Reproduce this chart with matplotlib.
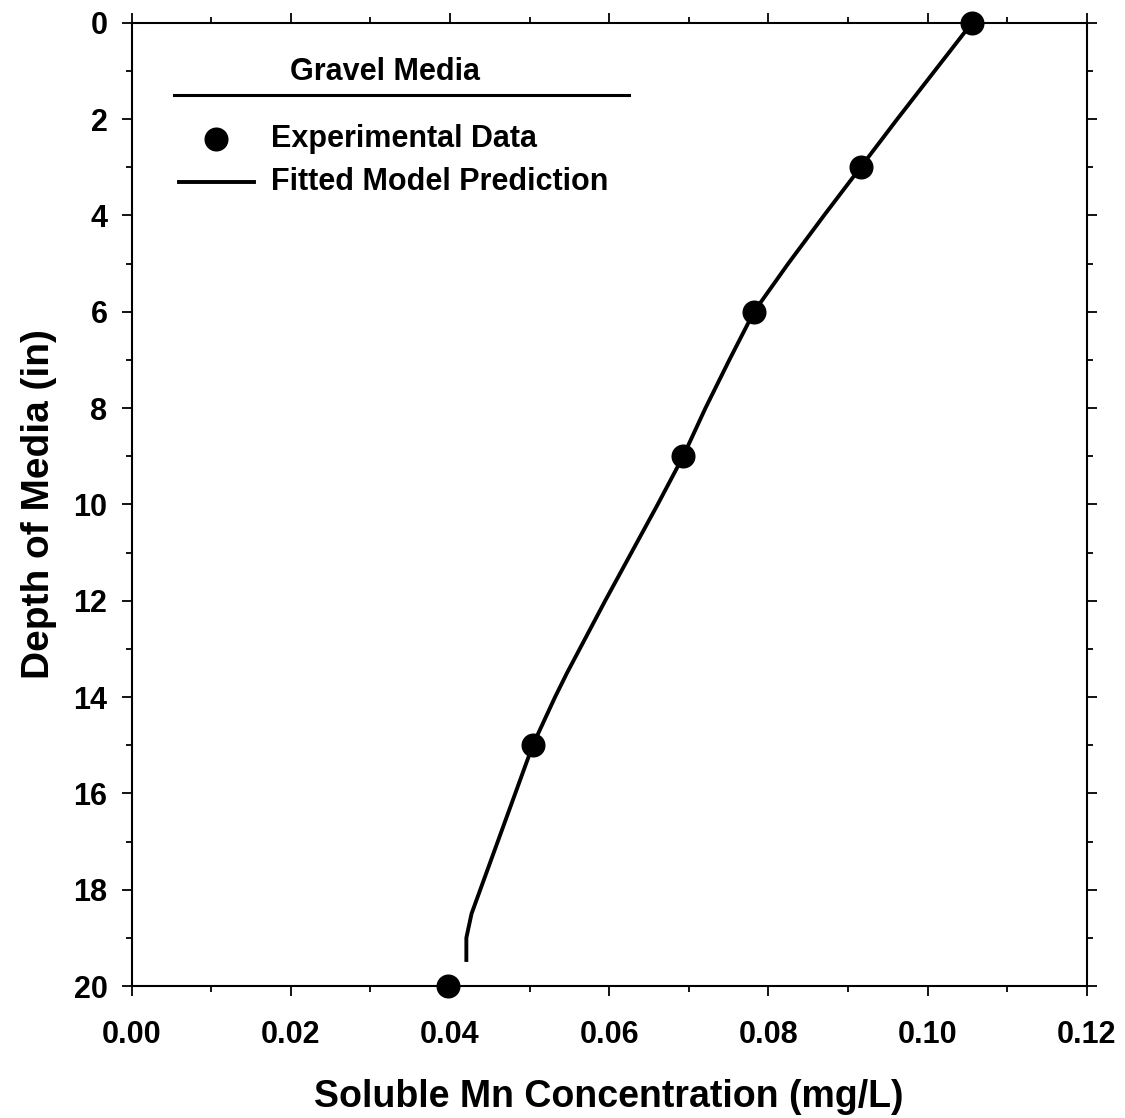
import matplotlib
matplotlib.use("Agg")
import matplotlib.pyplot as plt
from matplotlib.ticker import MultipleLocator, FormatStrFormatter

plt.rcParams["font.family"] = ["Liberation Sans", "DejaVu Sans"]
plt.rcParams["font.weight"] = "bold"

# Measured soluble Mn at each sampling depth
depth_exp = [0, 3, 6, 9, 15, 20]
conc_exp = [0.1056, 0.0916, 0.0782, 0.0693, 0.0504, 0.0397]

# Fitted model prediction through the gravel bed
depth_fit = [0, 1, 2, 3, 4, 5, 6, 7, 8, 9, 10, 11, 12, 13, 13.5, 14, 14.5,
             15, 16, 17, 18, 18.5, 19, 19.5]
conc_fit = [0.1056, 0.1009, 0.0962, 0.0916, 0.0870, 0.0825, 0.0782, 0.0751,
            0.0721, 0.0693, 0.0661, 0.0628, 0.0595, 0.0563, 0.0547, 0.0532,
            0.0518, 0.0504, 0.0482, 0.0460, 0.0438, 0.0427, 0.04205, 0.04205]

x_ticks = [0.00, 0.02, 0.04, 0.06, 0.08, 0.10, 0.12]
y_ticks = [0, 2, 4, 6, 8, 10, 12, 14, 16, 18, 20]

fig = plt.figure(figsize=(11.25, 11.18), dpi=100)
ax = fig.add_axes([131.7 / 1125, 1 - 986 / 1118, 955 / 1125, 963.3 / 1118])

ax.plot(conc_fit, depth_fit, color="black", lw=2.8, solid_capstyle="butt",
        solid_joinstyle="round", zorder=2)
ax.plot(conc_exp, depth_exp, "o", color="black", ms=16.3, clip_on=False,
        zorder=3)

ax.set_xlim(0, 0.12)
ax.set_ylim(20, 0)
ax.set_xticks(x_ticks)
ax.set_yticks(y_ticks)
ax.xaxis.set_minor_locator(MultipleLocator(0.01))
ax.yaxis.set_minor_locator(MultipleLocator(1))
ax.xaxis.set_major_formatter(FormatStrFormatter("%.2f"))

for s in ax.spines.values():
    s.set_linewidth(1.5)

ax.tick_params(which="both", direction="out", top=True, right=True,
               width=1.3, labelsize=22)
ax.tick_params(which="major", length=7.5)
ax.tick_params(which="minor", length=4.5)
ax.tick_params(axis="x", which="major", pad=17)
ax.tick_params(axis="y", which="major", pad=10)
for lab in ax.get_xticklabels() + ax.get_yticklabels():
    lab.set_fontweight("bold")

ax.set_xlabel("Soluble Mn Concentration (mg/L)", fontsize=27,
              fontweight="bold", labelpad=21)
ax.set_ylabel("Depth of Media (in)", fontsize=28, fontweight="bold",
              labelpad=12)

# Key in the upper left corner
tr = ax.transAxes
ax.text(0.2653, 0.949, "Gravel Media", transform=tr, ha="center",
        va="center", fontsize=22, fontweight="bold")
ax.plot([0.0438, 0.5207], [0.9253, 0.9253], transform=tr, color="black",
        lw=2.2)
ax.plot([0.0879], [0.879], "o", transform=tr, color="black", ms=16.3)
ax.text(0.1459, 0.879, "Experimental Data", transform=tr, ha="left",
        va="center", fontsize=22, fontweight="bold")
ax.plot([0.0499, 0.1280], [0.835, 0.835], transform=tr, color="black",
        lw=2.8)
ax.text(0.1459, 0.835, "Fitted Model Prediction", transform=tr, ha="left",
        va="center", fontsize=22, fontweight="bold")

fig.savefig("out.png", dpi=100)
